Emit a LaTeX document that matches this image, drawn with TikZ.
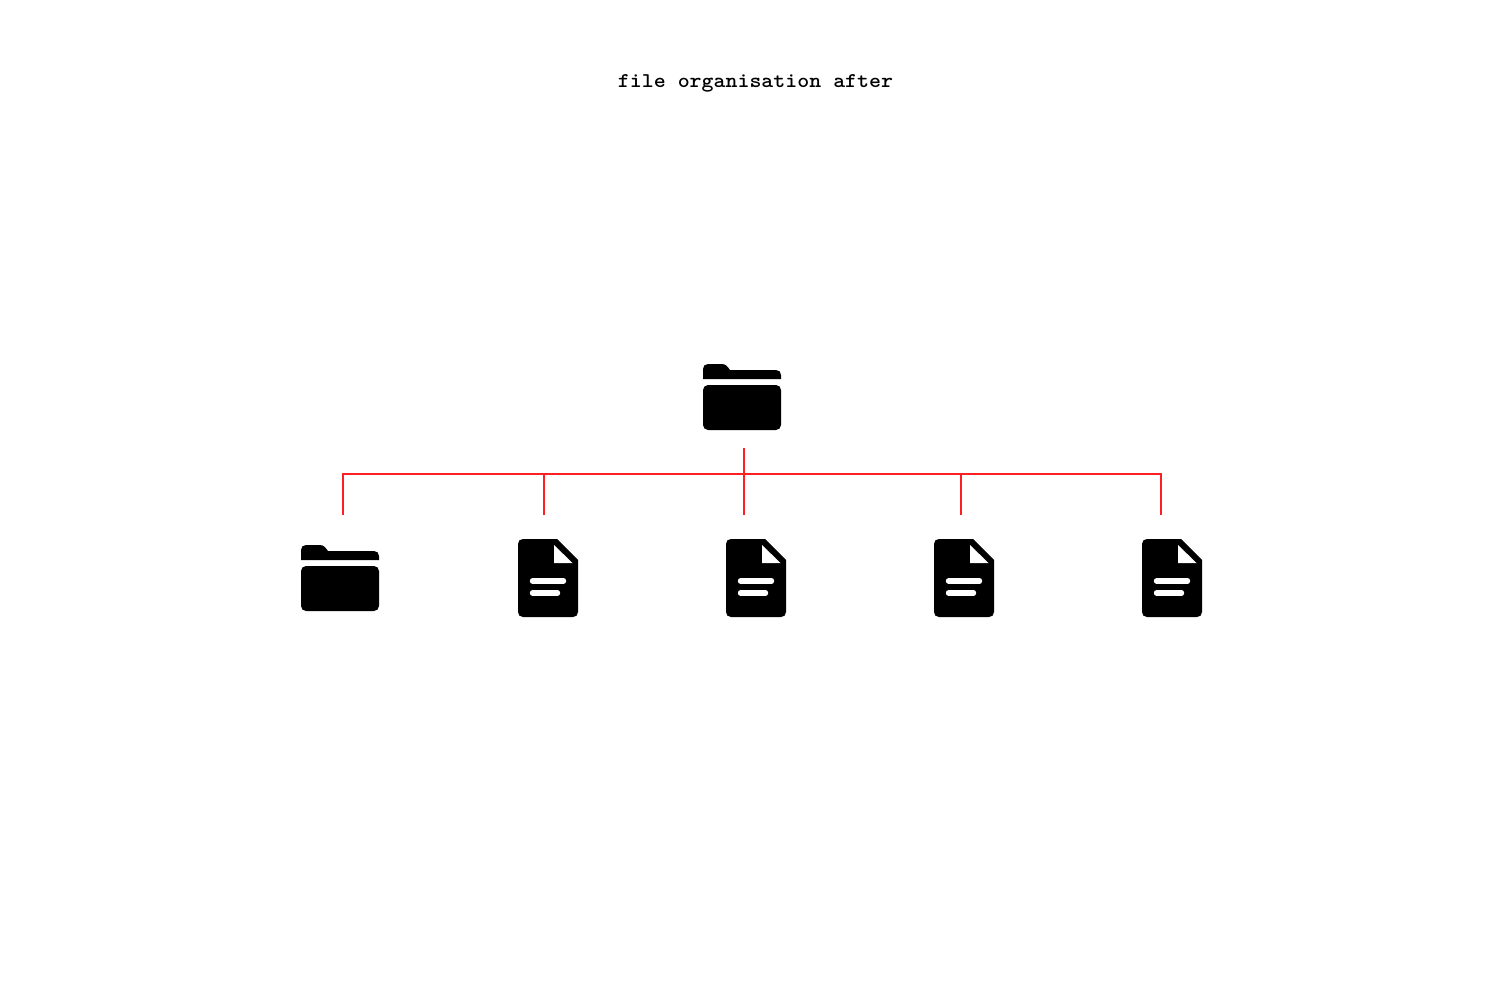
\documentclass[tikz,border=0pt]{standalone}
\usepackage{fontspec}
\usepackage{graphicx}
\definecolor{linkred}{RGB}{255,30,35}
\tikzset{
  x=1pt,y=-1pt,
  linkline/.style={color=linkred,line width=2pt},
  titletext/.style={inner sep=0pt,anchor=base,text=black},
  folder/.pic={
    \fill[black] (0,15) -- (0,5) .. controls (0,2) and (2,0) .. (5,0) -- (18,0)
      .. controls (23,0) and (24,2) .. (27,6) -- (73,6)
      .. controls (76,6) and (78,8) .. (78,11) -- (78,15) -- cycle;
    \fill[black,rounded corners=5pt] (0,21) rectangle (78,66);
  },
  docfile/.pic={
    \fill[black] (39,0) -- (5,0) .. controls (2,0) and (0,2) .. (0,5) -- (0,73)
      .. controls (0,76) and (2,78) .. (5,78) -- (55,78)
      .. controls (58,78) and (60,76) .. (60,73) -- (60,21) -- cycle;
    \fill[white] (36,6) -- (36,24) -- (54.5,24) -- cycle;
    \draw[white,line width=5.4pt,line cap=round] (14.5,42) -- (45.5,42);
    \draw[white,line width=5.4pt,line cap=round] (14.5,54) -- (39.5,54);
  }
}
\begin{document}
\begin{tikzpicture}
\useasboundingbox (0,0) rectangle (1512,982);
\fill[white] (0,0) rectangle (1512,982);
\node[titletext] (title) at (755.5,87) {\scalebox{1.085}[1]{\fontsize{21}{26}\selectfont\ttfamily\bfseries file organisation after}};
\pic at (703,364) {folder};
\pic at (301,545) {folder};
\pic at (518,539) {docfile};
\pic at (726,539) {docfile};
\pic at (934,539) {docfile};
\pic at (1142,539) {docfile};
\coordinate (rootend) at (744,448);
\coordinate (hub) at (744,473.5);
\coordinate (c1) at (343,515);
\coordinate (c2) at (543.5,515);
\coordinate (c3) at (744,515);
\coordinate (c4) at (961,515);
\coordinate (c5) at (1161.3,515);
\draw[linkline] (c1) |- (hub);
\draw[linkline] (c5) |- (hub);
\draw[linkline] (rootend) -- (c3);
\draw[linkline] (c2) -- (c2 |- hub);
\draw[linkline] (c4) -- (c4 |- hub);
\end{tikzpicture}
\end{document}
